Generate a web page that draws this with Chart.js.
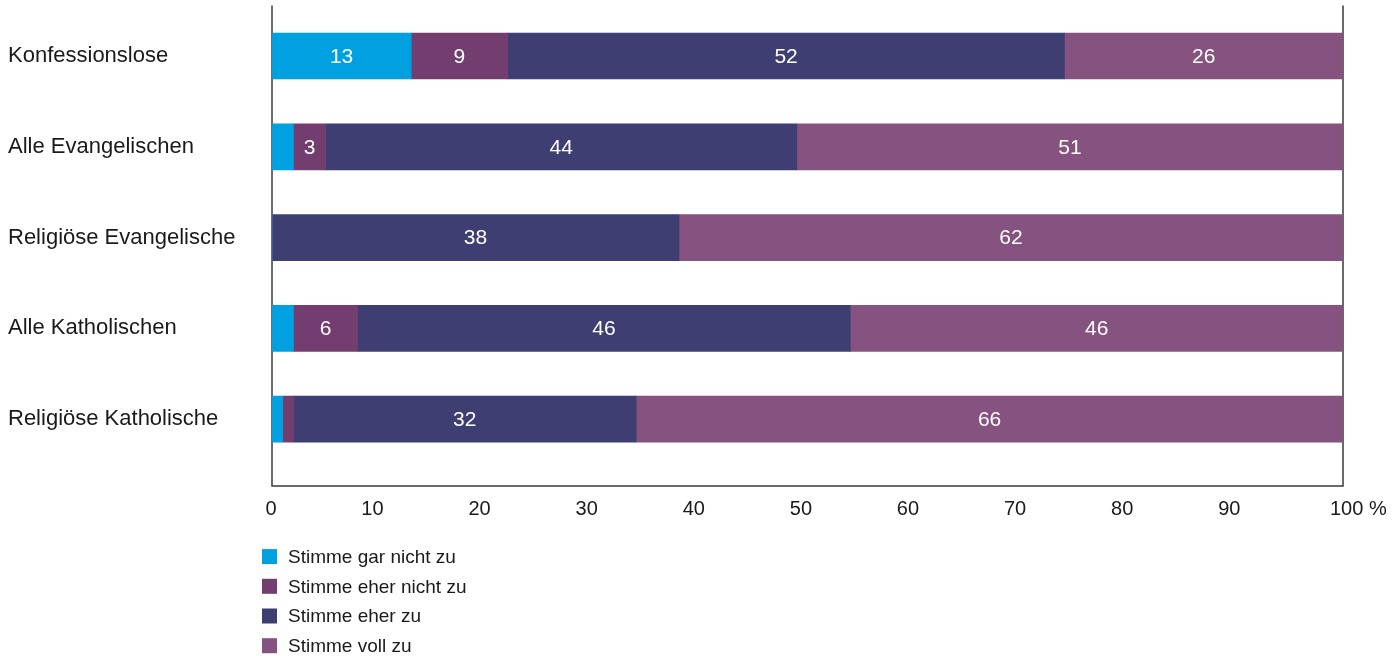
<!DOCTYPE html>
<html>
<head>
<meta charset="utf-8">
<script src="https://cdn.jsdelivr.net/npm/chart.js@4/dist/chart.umd.min.js"></script>
<style>
  html, body { margin: 0; padding: 0; background: #fff; }
  #wrap { width: 1395px; height: 656px; position: relative; }
</style>
</head>
<body>
<div id="wrap"><canvas id="chart"></canvas></div>
<script>
// ===== DATA =====
const categories = ['Konfessionslose', 'Alle Evangelischen', 'Religiöse Evangelische', 'Alle Katholischen', 'Religiöse Katholische'];
const seriesNames = ['Stimme gar nicht zu', 'Stimme eher nicht zu', 'Stimme eher zu', 'Stimme voll zu'];
const garNicht   = [13, 2, 0, 2, 1];
const eherNicht  = [9, 3, 0, 6, 1];
const eherZu     = [52, 44, 38, 46, 32];
const vollZu     = [26, 51, 62, 46, 66];
const xTicks     = [0, 10, 20, 30, 40, 50, 60, 70, 80, 90, 100];
const unitLabel  = '%';

const colors = ['#00a0e1', '#733d6f', '#3e3e72', '#86527f'];
const FONT = '"Liberation Sans", Arial, sans-serif';
const TEXT = '#1a1a1a';
const LAST_TICK = xTicks[xTicks.length - 1];

// Werte-Beschriftung in den Balken (nur ab 3)
const valueLabels = {
    id: 'valueLabels',
    afterDatasetsDraw(chart) {
        const ctx = chart.ctx;
        ctx.save();
        ctx.font = '21px ' + FONT;
        ctx.fillStyle = '#ffffff';
        ctx.textAlign = 'center';
        ctx.textBaseline = 'middle';
        chart.data.datasets.forEach((ds, i) => {
            const meta = chart.getDatasetMeta(i);
            meta.data.forEach((bar, j) => {
                const v = ds.data[j];
                if (v < 3) return;
                ctx.fillText(String(v), (bar.x + bar.base) / 2, bar.y + 1);
            });
        });
        ctx.restore();
    }
};

// Rahmen links / unten / rechts + letzter Tick mit Einheit
const frame = {
    id: 'frame',
    beforeDatasetsDraw(chart) {
        const a = chart.chartArea;
        const ctx = chart.ctx;
        const top = a.top - 5;
        const bottom = a.bottom + 21.5;
        ctx.save();
        ctx.strokeStyle = '#3a3a3a';
        ctx.lineWidth = 1.5;
        ctx.beginPath();
        ctx.moveTo(a.left, top);
        ctx.lineTo(a.left, bottom);
        ctx.lineTo(a.right, bottom);
        ctx.lineTo(a.right, top);
        ctx.stroke();
        ctx.restore();
    },
    afterDraw(chart) {
        const xs = chart.scales.x;
        const ctx = chart.ctx;
        ctx.save();
        ctx.font = '20px ' + FONT;
        ctx.fillStyle = TEXT;
        ctx.textAlign = 'left';
        ctx.textBaseline = 'middle';
        ctx.fillText(LAST_TICK + ' ' + unitLabel, xs.getPixelForValue(LAST_TICK) - 13, xs.top + 32.5 + 12);
        ctx.restore();
    }
};

// Legende senkrecht unter der Achse
const legendList = {
    id: 'legendList',
    afterDraw(chart) {
        const a = chart.chartArea;
        const ctx = chart.ctx;
        const x0 = a.left - 10;
        let y = a.bottom + 92;
        ctx.save();
        ctx.font = '19px ' + FONT;
        ctx.textBaseline = 'middle';
        ctx.textAlign = 'left';
        chart.data.datasets.forEach(ds => {
            ctx.fillStyle = ds.backgroundColor;
            ctx.fillRect(x0, y - 7.5, 15, 15);
            ctx.fillStyle = TEXT;
            ctx.fillText(ds.label, x0 + 26, y + 1);
            y += 29.7;
        });
        ctx.restore();
    }
};

const datasets = [garNicht, eherNicht, eherZu, vollZu].map((d, i) => ({
    label: seriesNames[i],
    data: d,
    backgroundColor: colors[i],
    borderWidth: 0,
    barThickness: 46
}));

new Chart(document.getElementById('chart'), {
    type: 'bar',
    data: { labels: categories, datasets: datasets },
    options: {
        indexAxis: 'y',
        responsive: true,
        maintainAspectRatio: false,
        animation: false,
        layout: { padding: { left: 8, top: 10.6, right: 52, bottom: 131.4 } },
        scales: {
            x: {
                stacked: true,
                min: 0,
                max: 100,
                afterBuildTicks(scale) {
                    scale.ticks = xTicks.map(v => ({ value: v }));
                },
                afterFit(scale) {
                    scale.height = 60;
                    scale.paddingLeft = 0;
                    scale.paddingRight = 0;
                    scale.paddingTop = 0;
                    scale.paddingBottom = 0;
                },
                grid: { display: false, drawTicks: false },
                border: { display: false },
                ticks: {
                    padding: 32.5,
                    align: 'end',
                    labelOffset: 4.5,
                    color: TEXT,
                    font: { family: FONT, size: 20 },
                    maxRotation: 0,
                    // der letzte Tick wird mit Einheit im Plugin gezeichnet
                    callback: v => v === LAST_TICK ? '' : String(v)
                }
            },
            y: {
                stacked: true,
                afterFit(scale) {
                    scale.width = 264;
                    scale.paddingTop = 0;
                    scale.paddingBottom = 0;
                    scale.paddingLeft = 0;
                    scale.paddingRight = 0;
                },
                grid: { display: false, drawTicks: false },
                border: { display: false },
                ticks: {
                    crossAlign: 'far',
                    color: TEXT,
                    font: { family: FONT, size: 22 }
                }
            }
        },
        plugins: {
            legend: { display: false },
            tooltip: { enabled: false }
        }
    },
    plugins: [frame, valueLabels, legendList]
});
</script>
</body>
</html>
